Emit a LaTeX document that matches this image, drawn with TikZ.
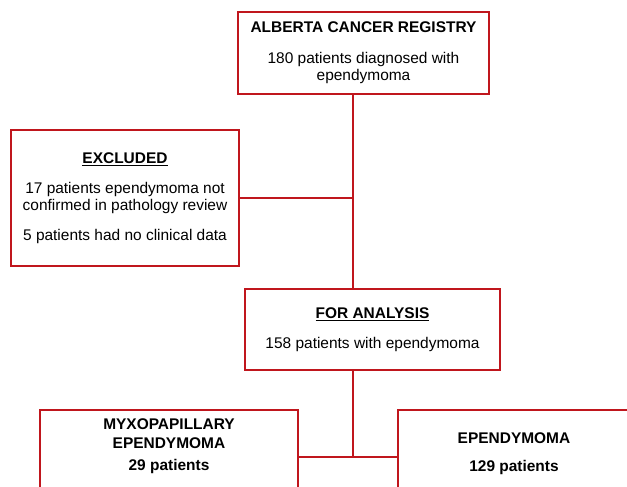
\documentclass[tikz,border=0pt]{standalone}
\usepackage{fontspec}
\setmainfont{Liberation Sans}
\usetikzlibrary{positioning}
\definecolor{colorBorde}{HTML}{C0161D}

\begin{document}
\begin{tikzpicture}[x=0.03cm, y=-0.03cm, font=\fontsize{13.2}{14.5}\selectfont,
        bx/.style={draw=colorBorde, line width=1.7pt, fill=white, align=center,
            inner sep=0pt},
        ln/.style={draw=colorBorde, line width=1.1pt}]
        \clip (0,0) rectangle (627,487);
        \node[bx, minimum width=7.53cm, minimum height=2.46cm] (reg) at (363.5,53)
            {\textbf{ALBERTA CANCER REGISTRY}\\[12pt]180 patients diagnosed with\\ependymoma};
        \node[bx, minimum width=6.84cm, minimum height=4.08cm] (exc) at (125,198)
            {\underline{\textbf{EXCLUDED}}\\[11pt]17 patients ependymoma not\\confirmed in pathology review\\[11pt]5 patients had no clinical data};
        \node[bx, minimum width=7.65cm, minimum height=2.43cm] (ana) at (372.5,329.5)
            {\underline{\textbf{FOR ANALYSIS}}\\[11pt]158 patients with ependymoma};
        % bottom boxes run past the edge, text sits high in them
        \node[bx, minimum width=7.74cm, minimum height=2.82cm] (myx) at (169,457)
            {\textbf{MYXOPAPILLARY}\\[1pt]\textbf{EPENDYMOMA}\\[5pt]\textbf{29 patients}\\[6pt]\mbox{}};
        \node[bx, minimum width=6.96cm, minimum height=2.82cm] (epe) at (514,457)
            {\textbf{EPENDYMOMA}\\[10pt]\textbf{129 patients}\\[-6pt]\mbox{}};
        \coordinate (sp) at (353,196);
        \draw[ln] (reg.south -| sp) -- (ana.north -| sp);
        \draw[ln] (exc.east) -- (exc.east -| sp);
        \draw[ln] (ana.south -| sp) -- (sp |- myx.east);
        \draw[ln] (myx.east) -- (epe.west);
    \end{tikzpicture}
\end{document}
